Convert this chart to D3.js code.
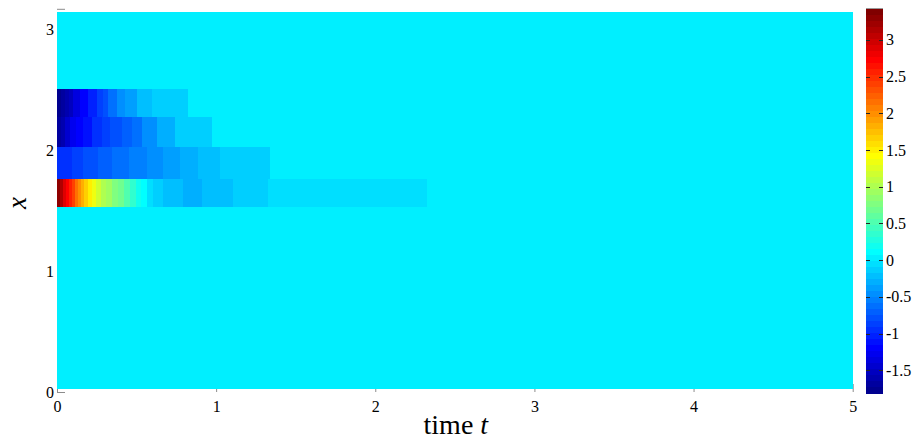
<!DOCTYPE html>
<html>
<head>
<meta charset="utf-8">
<script src="https://cdn.jsdelivr.net/npm/d3@7"></script>
<style>
  body { margin: 0; background: #fff; }
  svg { display: block; }
  text { font-family: "Liberation Serif", "Times New Roman", serif; fill: #000; }
</style>
</head>
<body>
<svg id="chart" width="917" height="439"></svg>
<script>
// Spatial band edges (x) holding non-zero values, lowest band first
const bandEdges = [1.53, 1.763, 2.027, 2.275, 2.502];

// Time-step edges and cell values for each band (band 1 = lowest)
const band1Times = [0, 0.019, 0.038, 0.057, 0.075, 0.094, 0.113, 0.132, 0.151, 0.170, 0.195, 0.220, 0.245, 0.276, 0.308, 0.346, 0.383, 0.421, 0.459, 0.496, 0.528, 0.567, 0.605, 0.668, 0.794, 0.909, 1.108, 1.328, 2.327];
const band1Values = [3.30, 3.14, 2.90, 2.73, 2.57, 2.40, 2.16, 2.00, 1.83, 1.67, 1.50, 1.34, 1.18, 1.01, 0.93, 0.77, 0.69, 0.52, 0.36, 0.20, 0.11, -0.05, -0.13, -0.21, -0.30, -0.21, -0.13, -0.05];

const band2Times = [0, 0.092, 0.166, 0.260, 0.344, 0.454, 0.567, 0.668, 0.773, 0.888, 1.024, 1.338];
const band2Values = [-0.95, -0.87, -0.79, -0.71, -0.62, -0.54, -0.46, -0.38, -0.30, -0.21, -0.13];

const band3Times = [0, 0.025, 0.050, 0.082, 0.119, 0.165, 0.218, 0.281, 0.333, 0.407, 0.469, 0.532, 0.626, 0.741, 0.972];
const band3Values = [-1.69, -1.61, -1.44, -1.28, -1.20, -1.11, -0.95, -0.87, -0.79, -0.71, -0.62, -0.46, -0.30, -0.13];

const band4Times = [0, 0.025, 0.050, 0.075, 0.101, 0.145, 0.197, 0.249, 0.291, 0.322, 0.375, 0.427, 0.501, 0.595, 0.825];
const band4Values = [-1.77, -1.69, -1.61, -1.52, -1.36, -1.20, -1.03, -0.87, -0.79, -0.62, -0.46, -0.38, -0.21, -0.13];

// Value everywhere else in the field
const backgroundValue = 0;

// Field extent and axis limits
const timeRange = [0, 5];
const fieldSpace = [0.027, Math.PI];
const spaceAxisTop = 3.163;

// Tick values
const timeTicks = [0, 1, 2, 3, 4, 5];
const spaceTicks = [0, 1, 2, 3];
const colorTicks = [-1.5, -1, -0.5, 0, 0.5, 1, 1.5, 2, 2.5, 3];
const colorLimits = [-1.81, 3.43];

const serif = '"Liberation Serif", "Times New Roman", serif';

// 64-level jet colormap
function jet(n) {
  const out = [];
  const q = n / 8;
  for (let k = 1; k <= n; k++) {
    let r, g, b;
    if (k <= q) { r = 0; g = 0; b = 0.5 + k / (2 * q); }
    else if (k <= 3 * q) { r = 0; g = (k - q) / (2 * q); b = 1; }
    else if (k <= 5 * q) { r = (k - 3 * q) / (2 * q); g = 1; b = 1 - (k - 3 * q) / (2 * q); }
    else if (k <= 7 * q) { r = 1; g = 1 - (k - 5 * q) / (2 * q); b = 0; }
    else { r = 1 - (k - 7 * q) / (2 * q); g = 0; b = 0; }
    out.push(d3.rgb(Math.round(r * 255), Math.round(g * 255), Math.round(b * 255)).formatHex());
  }
  return out;
}
const jetColors = jet(64);

const svg = d3.select("#chart");

const x = d3.scaleLinear().domain(timeRange).range([57, 852.7]);
const y = d3.scaleLinear().domain([0, spaceAxisTop]).range([392, 9.3]);
const color = d3.scaleQuantize().domain(colorLimits).range(jetColors);

// Axis ticks (drawn underneath the field, as they point inward)
const gx = svg.append("g").attr("transform", `translate(0,${y(0)})`)
  .call(d3.axisBottom(x).tickValues(timeTicks).tickFormat(d => String(d)).tickSize(-8).tickPadding(8.5));
const gy = svg.append("g").attr("transform", `translate(${x(0)},0)`)
  .call(d3.axisLeft(y).tickValues(spaceTicks).tickFormat(d => String(d)).tickSize(-8).tickPadding(3));
[gx, gy].forEach(g => {
  g.attr("font-family", serif).attr("font-size", 16);
  g.select(".domain").remove();
  g.selectAll(".tick line").attr("stroke", "#8c8c8c");
  g.selectAll(".tick text").attr("fill", "#000");
});
svg.append("line")
  .attr("x1", x(0)).attr("x2", x(0) + 8)
  .attr("y1", y(spaceAxisTop)).attr("y2", y(spaceAxisTop))
  .attr("stroke", "#8c8c8c");

// Field
const field = svg.append("g").attr("shape-rendering", "crispEdges");
field.append("rect")
  .attr("x", x(timeRange[0])).attr("y", y(fieldSpace[1]))
  .attr("width", x(timeRange[1]) - x(timeRange[0]))
  .attr("height", y(fieldSpace[0]) - y(fieldSpace[1]))
  .attr("fill", color(backgroundValue));

const bands = [
  [band1Times, band1Values],
  [band2Times, band2Values],
  [band3Times, band3Values],
  [band4Times, band4Values]
];
bands.forEach(([times, values], i) => {
  const lo = bandEdges[i], hi = bandEdges[i + 1];
  field.append("g").selectAll("rect")
    .data(values)
    .join("rect")
    .attr("x", (d, j) => x(times[j]))
    .attr("width", (d, j) => x(times[j + 1]) - x(times[j]))
    .attr("y", y(hi))
    .attr("height", y(lo) - y(hi))
    .attr("fill", d => color(d));
});

// Axis titles
svg.append("text")
  .attr("x", (x(timeRange[0]) + x(timeRange[1])) / 2 + 1)
  .attr("y", 434)
  .attr("text-anchor", "middle")
  .attr("font-family", serif)
  .style("font-size", "28px")
  .call(t => {
    t.append("tspan").text("time ");
    t.append("tspan").style("font-style", "italic").text("t");
  });

svg.append("text")
  .attr("transform", `translate(26,${(y(0) + y(fieldSpace[1])) / 2 + 1}) rotate(-90)`)
  .attr("text-anchor", "middle")
  .attr("font-family", serif)
  .style("font-size", "27px")
  .style("font-style", "italic")
  .text("x");

// Colorbar
const cbX = 866, cbW = 17;
const cb = d3.scaleLinear().domain(colorLimits).range([393, 8.5]);
const step = (colorLimits[1] - colorLimits[0]) / jetColors.length;
const cbG = svg.append("g").attr("shape-rendering", "crispEdges");
cbG.selectAll("rect")
  .data(jetColors)
  .join("rect")
  .attr("x", cbX)
  .attr("width", cbW)
  .attr("y", (c, i) => cb(colorLimits[0] + (i + 1) * step))
  .attr("height", (c, i) => cb(colorLimits[0] + i * step) - cb(colorLimits[0] + (i + 1) * step) + 0.5)
  .attr("fill", c => c);

const cbTicks = svg.append("g").attr("font-family", serif);
colorTicks.forEach(v => {
  const yy = Math.round(cb(v)) + 0.5;
  cbTicks.append("line").attr("x1", cbX).attr("x2", cbX + 4).attr("y1", yy).attr("y2", yy).attr("stroke", "#262626");
  cbTicks.append("line").attr("x1", cbX + cbW - 4).attr("x2", cbX + cbW).attr("y1", yy).attr("y2", yy).attr("stroke", "#262626");
  cbTicks.append("text")
    .attr("x", cbX + cbW + 3)
    .attr("y", cb(v))
    .attr("dy", "0.34em")
    .style("font-size", "16px")
    .text(String(v));
});
svg.append("line")
  .attr("x1", cbX).attr("x2", cbX + cbW)
  .attr("y1", cb(colorLimits[1])).attr("y2", cb(colorLimits[1]))
  .attr("stroke", "#9a9a9a");
</script>
</body>
</html>
